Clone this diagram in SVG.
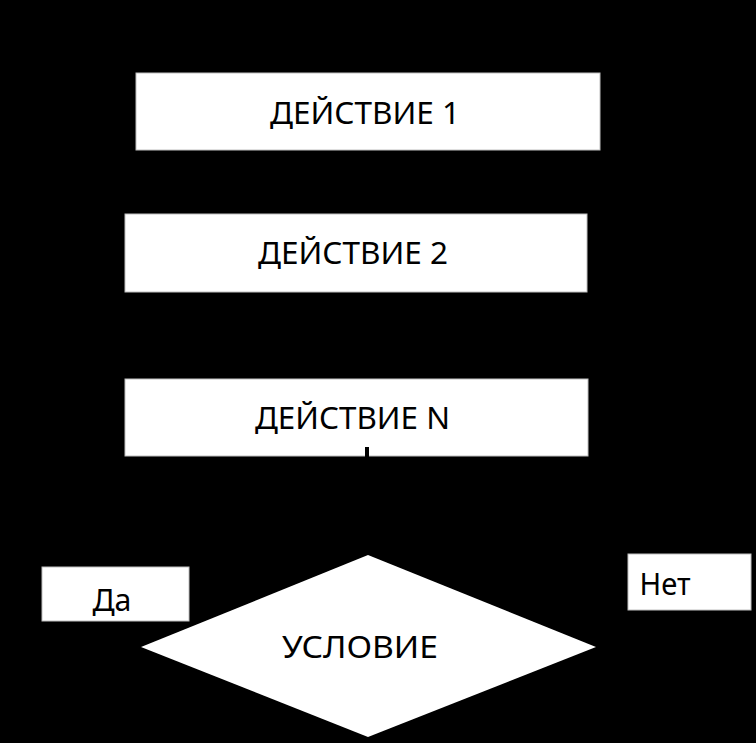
<svg xmlns="http://www.w3.org/2000/svg" width="756" height="743" viewBox="0 0 756 743">
<style>
.box{fill:#ffffff;stroke:#bfbfbf;stroke-width:1}
.t{font-family:"Noto Sans","Open Sans","DejaVu Sans",sans-serif;fill:#000000;text-anchor:middle;font-size:30px}
.conn{stroke:#000000;stroke-width:4;fill:none}
</style>
<rect x="0" y="0" width="756" height="743" fill="#000000"/>
<g id="node-action1">
<rect class="box" x="136" y="73" width="464" height="77"/>
<text class="t" x="365" y="124" textLength="190" lengthAdjust="spacingAndGlyphs">ДЕЙСТВИЕ 1</text>
</g>
<g id="node-action2">
<rect class="box" x="125" y="214" width="462" height="78"/>
<text class="t" x="353" y="264" textLength="190" lengthAdjust="spacingAndGlyphs">ДЕЙСТВИЕ 2</text>
</g>
<g id="node-actionN">
<rect class="box" x="125" y="379" width="463" height="77"/>
<text class="t" x="352.5" y="429" textLength="195" lengthAdjust="spacingAndGlyphs">ДЕЙСТВИЕ N</text>
</g>
<g id="node-condition">
<polygon points="368,555 596,647 368,737 141,647" fill="#ffffff"/>
<text class="t" x="360" y="658" textLength="156" lengthAdjust="spacingAndGlyphs">УСЛОВИЕ</text>
</g>
<g id="node-yes">
<rect class="box" x="42" y="567" width="147" height="54"/>
<text class="t" x="112" y="611" textLength="39" lengthAdjust="spacingAndGlyphs">Да</text>
</g>
<g id="node-no">
<rect class="box" x="628" y="554" width="123" height="56"/>
<text class="t" x="665" y="595" textLength="51" lengthAdjust="spacingAndGlyphs">Нет</text>
</g>
<g id="connectors">
<line class="conn" x1="367" y1="447" x2="367" y2="555"/>
</g>
</svg>
